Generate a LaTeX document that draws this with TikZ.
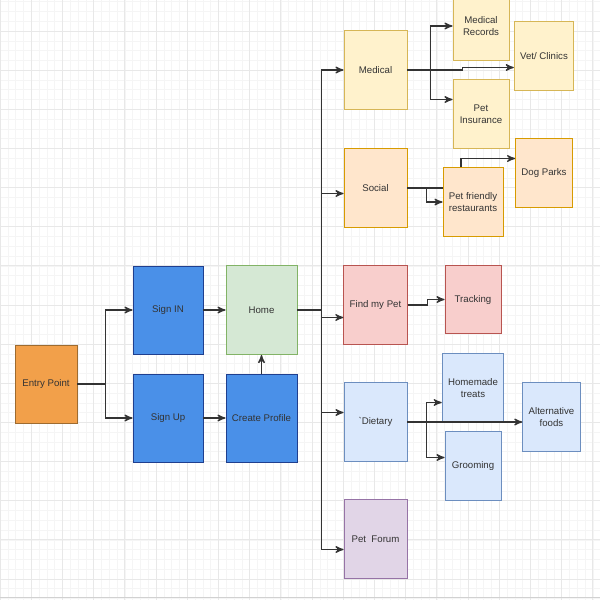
\documentclass[tikz,border=0pt]{standalone}
\usepackage{fontspec}
\setmainfont{Liberation Sans}
\usetikzlibrary{arrows}

\definecolor{entryfill}{HTML}{F2A04A}
\definecolor{entryline}{HTML}{9E6B2F}
\definecolor{bluefill}{HTML}{4A90E8}
\definecolor{blueline}{HTML}{1F3F8F}
\definecolor{homefill}{HTML}{D5E8D4}
\definecolor{homeline}{HTML}{82B366}
\definecolor{medfill}{HTML}{FFF2CC}
\definecolor{medline}{HTML}{D6B656}
\definecolor{socfill}{HTML}{FFE6CC}
\definecolor{socline}{HTML}{D79B00}
\definecolor{findfill}{HTML}{F8CECC}
\definecolor{findline}{HTML}{B85450}
\definecolor{dietfill}{HTML}{DAE8FC}
\definecolor{dietline}{HTML}{6C8EBF}
\definecolor{forumfill}{HTML}{E1D5E7}
\definecolor{forumline}{HTML}{9673A6}

\tikzstyle{box} = [rectangle, text centered, align=center, text=black!80, font=\fontsize{5.5}{6.6}\selectfont, line width=0.5pt]
\tikzstyle{entrybox} = [box, minimum width=1.24cm, minimum height=1.56cm, fill=entryfill, draw=entryline]
\tikzstyle{authbox} = [box, minimum width=1.4cm, minimum height=1.76cm, fill=bluefill, draw=blueline]
\tikzstyle{homebox} = [box, minimum width=1.42cm, minimum height=1.78cm, fill=homefill, draw=homeline]
\tikzstyle{section} = [box, minimum width=1.26cm, minimum height=1.58cm]
\tikzstyle{leaf} = [box, minimum width=1.12cm, minimum height=1.38cm]
\tikzstyle{medical} = [fill=medfill, draw=medline]
\tikzstyle{social} = [fill=socfill, draw=socline]
\tikzstyle{finder} = [fill=findfill, draw=findline]
\tikzstyle{diet} = [fill=dietfill, draw=dietline]
\tikzstyle{forum} = [fill=forumfill, draw=forumline]
\tikzstyle{gridminor} = [draw=black!4, line width=0.3pt]
\tikzstyle{gridmajor} = [draw=black!9, line width=0.4pt]
\tikzstyle{arrow} = [line width=0.7pt, draw=black!80, ->, >=stealth']
\tikzstyle{line} = [line width=0.7pt, draw=black!80]

\begin{document}
\begin{tikzpicture}[node distance=2cm]
    \useasboundingbox (0,0) rectangle (12,-12);
    \begin{scope}
    \clip (0,0) rectangle (12,-12);
    % background grid
    \foreach \i in {0,...,77} \draw [gridminor] (\i*0.156,0) -- (\i*0.156,-12);
    \foreach \j in {0,...,61} \draw [gridminor] (0,-0.033-\j*0.1957) -- (12,-0.033-\j*0.1957);
    \foreach \i in {0,...,19} \draw [gridmajor] (\i*0.624,0) -- (\i*0.624,-12);
    \foreach \j in {0,...,14} \draw [gridmajor] (0,-0.62-\j*0.7828) -- (12,-0.62-\j*0.7828);
    \draw [draw=black!18, line width=0.6pt] (0,-11.95) -- (12,-11.95);

    \node (entry) [entrybox] at (0.92,-7.68) {Entry Point};
    \node (signin) [authbox, right of=entry, xshift=0.44cm, yshift=1.48cm] {Sign IN};
    \node (signup) [authbox, below of=signin, yshift=-0.16cm] {Sign Up};
    \node (home) [homebox, right of=signin, xshift=-0.13cm] {Home};
    \node (profile) [authbox, minimum width=1.42cm, right of=signup, xshift=-0.13cm] {Create Profile};

    \node (medical) [section, medical, right of=home, xshift=0.28cm, yshift=4.8cm] {Medical};
    \node (social) [section, social, below of=medical, yshift=-0.36cm] {Social};
    \node (findpet) [section, finder, below of=social, yshift=-0.34cm] {Find my Pet};
    \node (dietary) [section, diet, below of=findpet, yshift=-0.34cm] {\textasciigrave Dietary};
    \node (forum) [section, forum, below of=dietary, yshift=-0.34cm] {Pet \ Forum};

    \node (records) [leaf, medical, right of=medical, xshift=0.11cm, yshift=0.88cm] {Medical\\Records};
    \node (insurance) [leaf, medical, right of=medical, xshift=0.11cm, yshift=-0.88cm] {Pet\\Insurance};
    \node (vet) [leaf, medical, minimum width=1.08cm, right of=medical, xshift=1.37cm, yshift=0.28cm] {Vet/ Clinics};
    \node (restaurants) [leaf, social, right of=social, xshift=-0.05cm, yshift=-0.28cm] {Pet friendly\\restaurants};
    \node (dogparks) [leaf, social, minimum width=1.08cm, right of=social, xshift=1.37cm, yshift=0.3cm] {Dog Parks};
    \node (tracking) [leaf, finder, minimum height=1.36cm, right of=findpet, xshift=-0.05cm, yshift=0.11cm] {Tracking};
    \node (treats) [leaf, diet, right of=dietary, xshift=-0.05cm, yshift=0.68cm] {Homemade\\treats};
    \node (grooming) [leaf, diet, right of=dietary, xshift=-0.05cm, yshift=-0.88cm] {Grooming};
    \node (altfoods) [leaf, diet, minimum width=1.1cm, right of=dietary, xshift=1.52cm, yshift=0.1cm] {Alternative\\foods};

    \draw [arrow] (entry.east) -- ++(0.56,0) |- (signin.west);
    \draw [arrow] (entry.east) -- ++(0.56,0) |- (signup.west);
    \draw [arrow] (signin) -- (home);
    \draw [arrow] (signup) -- (profile);
    \draw [arrow] (profile) -- (home);

    \draw [arrow] (home.east) -- ++(0.48,0) |- (medical.west);
    \draw [arrow] (home.east) -- ++(0.48,0) |- ([yshift=-0.11cm]social.west);
    \draw [arrow] (home.east) -- ++(0.48,0) |- ([yshift=-0.25cm]findpet.west);
    \draw [arrow] (home.east) -- ++(0.48,0) |- ([yshift=0.19cm]dietary.west);
    \draw [arrow] (home.east) -- ++(0.48,0) |- ([yshift=-0.21cm]forum.west);

    \draw [arrow] (medical.east) -- ++(0.46,0) |- (records.west);
    \draw [arrow] (medical.east) -- ++(0.46,0) |- ([yshift=0.29cm]insurance.west);
    \draw [arrow] (medical.east) -- ++(1.1,0) |- ([yshift=-0.23cm]vet.west);

    \draw [arrow] (social.east) -- ++(0.38,0) |- (restaurants.west);
    \draw [line] (social.east) -- (social.east -| restaurants.west);
    \draw [arrow] ([xshift=-0.24cm]restaurants.north) |- ([yshift=0.29cm]dogparks.west);

    \draw [arrow] (findpet.east) -- ++(0.4,0) |- (tracking.west);

    \draw [arrow] (dietary.east) -- (dietary.east -| altfoods.west);
    \draw [arrow] (dietary.east) -- ++(0.38,0) |- ([yshift=-0.29cm]treats.west);
    \draw [arrow] (dietary.east) -- ++(0.38,0) |- ([yshift=0.17cm]grooming.west);
    \end{scope}
\end{tikzpicture}
\end{document}
